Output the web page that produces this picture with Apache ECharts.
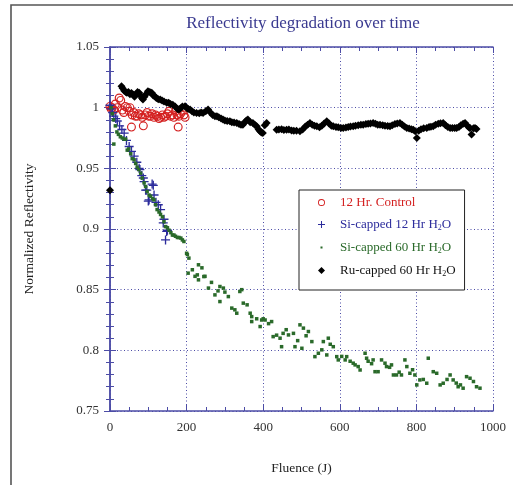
<!DOCTYPE html>
<html>
<head>
<meta charset="utf-8">
<script src="https://cdn.jsdelivr.net/npm/echarts@6/dist/echarts.min.js"></script>
<style>html,body{margin:0;padding:0;background:#fff;}#c{width:513px;height:485px;}</style>
</head>
<body>
<div id="c"></div>
<script>
var seriesNames = ['12 Hr. Control', 'Si-capped 12 Hr H2O', 'Si-capped 60 Hr H2O', 'Ru-capped 60 Hr H2O'];
var xTicks = [0, 200, 400, 600, 800, 1000];
var yTicks = [0.75, 0.8, 0.85, 0.9, 0.95, 1, 1.05];

var controlData = [[0,1.001],[3,0.999],[6,1.0],[10,0.998],[14,1.003],[19,1.0],[24,1.008],[28,1.006],[32,0.998],[36,0.996],[40,1.001],[45,1.0],[50,0.997],[52,1.0],[56,0.984],[58,0.994],[62,0.996],[66,0.993],[71,0.993],[75,0.995],[80,0.994],[84,0.992],[87,0.985],[92,0.994],[97,0.996],[101,0.993],[106,0.993],[110,0.995],[115,0.992],[119,0.994],[123,0.993],[128,0.991],[132,0.992],[137,0.994],[141,0.992],[145,0.993],[150,0.995],[154,0.997],[158,0.993],[163,0.994],[167,0.992],[171,0.997],[175,0.994],[178,0.984],[180,0.993],[184,0.995],[189,0.997],[193,0.994],[196,0.992]];

var si12Data = [[0,1.002],[3,0.999],[7,0.996],[10,0.993],[15,0.991],[19,0.989],[25,0.985],[31,0.982],[37,0.979],[43,0.973],[50,0.968],[56,0.964],[63,0.96],[70,0.955],[76,0.95],[78,0.949],[83,0.944],[87,0.942],[89,0.939],[93,0.932],[96,0.932],[100,0.923],[102,0.924],[110,0.937],[113,0.936],[115,0.928],[120,0.922],[126,0.92],[132,0.916],[139,0.905],[141,0.908],[145,0.891],[148,0.898],[150,0.899]];

var si60Data = [[3,1.0],[6,0.995],[9,0.99],[10,0.970],[14,0.985],[18,0.98],[22,0.978],[27,0.976],[32,0.975],[37,0.974],[41,0.974],[45,0.965],[49,0.966],[54,0.962],[58,0.958],[63,0.957],[67,0.954],[71,0.951],[75,0.949],[80,0.946],[84,0.942],[89,0.938],[93,0.935],[97,0.931],[102,0.928],[106,0.927],[111,0.925],[115,0.924],[119,0.92],[123,0.916],[128,0.914],[132,0.912],[137,0.91],[141,0.906],[145,0.902],[150,0.901],[154,0.899],[159,0.897],[163,0.895],[167,0.895],[171,0.894],[176,0.893],[180,0.893],[185,0.8925],[189,0.891],[193,0.8897],[200,0.880],[202,0.879],[206,0.876],[204,0.8636],[215,0.8664],[222,0.861],[228,0.8622],[231,0.8705],[231,0.8581],[240,0.868],[245,0.8608],[248,0.861],[257,0.8513],[265,0.856],[274,0.8457],[282,0.849],[287,0.8526],[287,0.8402],[296,0.8513],[300,0.848],[309,0.8443],[318,0.8348],[326,0.8334],[331,0.8306],[339,0.8485],[344,0.85],[348,0.8389],[358,0.8375],[366,0.8306],[370,0.8278],[370,0.8237],[383,0.826],[392,0.8196],[396,0.825],[400,0.826],[405,0.825],[414,0.822],[422,0.8237],[426,0.8113],[435,0.8125],[444,0.81],[448,0.803],[452,0.814],[460,0.817],[466,0.8127],[479,0.814],[483,0.803],[490,0.808],[496,0.821],[501,0.8017],[505,0.8183],[512,0.812],[518,0.8155],[527,0.8072],[535,0.7948],[544,0.7976],[553,0.8004],[557,0.8072],[566,0.7962],[570,0.81],[575,0.805],[583,0.803],[592,0.7948],[596,0.7921],[605,0.795],[614,0.7921],[618,0.7948],[627,0.791],[635,0.7894],[640,0.788],[648,0.7866],[653,0.7838],[666,0.7976],[670,0.7935],[674,0.791],[683,0.789],[687,0.7921],[692,0.7824],[700,0.7824],[709,0.7921],[718,0.7894],[722,0.7866],[730,0.786],[735,0.788],[740,0.7797],[748,0.7797],[755,0.782],[761,0.7797],[770,0.7921],[775,0.7866],[783,0.7811],[790,0.784],[796,0.7797],[801,0.7715],[809,0.7756],[818,0.776],[827,0.7729],[831,0.7935],[844,0.7824],[853,0.7811],[862,0.7715],[870,0.7729],[880,0.776],[888,0.7797],[896,0.7756],[904,0.773],[909,0.77],[915,0.7715],[922,0.7688],[931,0.7783],[940,0.777],[949,0.7743],[957,0.77],[966,0.7688]];

var ruData = [[0,0.932],[30,1.0176],[33,1.016],[37,1.014],[41,1.013],[44,1.0122],[48,1.013],[52,1.011],[56,1.012],[60,1.0108],[64,1.009],[68,1.011],[72,1.013],[76,1.0122],[80,1.01],[83,1.008],[86,1.0067],[90,1.009],[94,1.011],[99,1.0135],[104,1.013],[109,1.0122],[113,1.01],[117,1.0094],[121,1.008],[126,1.007],[131,1.0067],[136,1.006],[141,1.005],[148,1.004],[153,1.004],[158,1.003],[164,1.0025],[170,1.001],[176,0.999],[180,0.9984],[184,0.9995],[189,1.001],[196,1.0011],[200,1.0],[204,0.999],[209,0.9984],[214,0.997],[219,0.996],[226,0.9957],[233,0.9955],[238,0.996],[243,0.9957],[250,0.997],[256,0.9984],[262,0.996],[268,0.994],[274,0.993],[279,0.9929],[284,0.992],[290,0.991],[295,0.9902],[300,0.9895],[306,0.989],[313,0.9888],[318,0.988],[324,0.9878],[331,0.9874],[337,0.9866],[342,0.986],[347,0.986],[352,0.988],[356,0.9895],[360,0.9902],[366,0.988],[373,0.9874],[378,0.986],[383,0.9846],[388,0.982],[392,0.9805],[395,0.9795],[399,0.9792],[404,0.9855],[409,0.9874],[435,0.9819],[441,0.982],[448,0.9822],[454,0.9815],[461,0.9819],[467,0.982],[474,0.9812],[480,0.981],[487,0.981],[496,0.9805],[503,0.982],[510,0.9845],[516,0.986],[522,0.9874],[528,0.986],[534,0.985],[540,0.9846],[547,0.9838],[553,0.985],[559,0.987],[566,0.9888],[572,0.987],[578,0.985],[583,0.9846],[590,0.984],[596,0.9838],[603,0.9833],[609,0.9833],[616,0.9836],[622,0.984],[628,0.9845],[635,0.9846],[641,0.985],[648,0.9855],[655,0.986],[661,0.986],[668,0.9865],[674,0.9868],[680,0.987],[687,0.9874],[693,0.9868],[699,0.986],[705,0.986],[712,0.9855],[718,0.985],[725,0.9848],[731,0.9846],[737,0.9855],[744,0.9865],[750,0.987],[757,0.9874],[763,0.986],[769,0.9845],[775,0.9833],[781,0.9828],[787,0.9822],[792,0.9819],[797,0.9805],[801,0.975],[806,0.981],[812,0.9822],[819,0.983],[827,0.9833],[833,0.984],[838,0.9843],[844,0.9846],[850,0.986],[857,0.9868],[863,0.9872],[870,0.9874],[876,0.9855],[882,0.984],[888,0.9833],[894,0.9833],[900,0.9833],[905,0.9833],[911,0.984],[916,0.9855],[922,0.9868],[927,0.9874],[933,0.985],[938,0.9835],[940,0.9833],[944,0.9778],[949,0.983],[953,0.9833],[957,0.9825]];

var colors = ['#d42020', '#2c2c9c', '#2a6a2a', '#000000'];
var SERIF = 'Liberation Serif';
var AXIS_COLOR = '#4c4ca6';
var plusPath = 'path://M4,0h1.4v4h4v1.4h-4v4h-1.4v-4h-4v-1.4h4z';
var smallSquare = 'path://M0,0M3.2,3.2h2.6v2.6h-2.6zM9,9';
var ringPath = 'path://M5,0A5,5,0,1,1,4.99,0zM5,1.3A3.7,3.7,0,1,0,5.01,1.3z';

var chart = echarts.init(document.getElementById('c'), null, {renderer: 'canvas'});

function axisCommon(showLabel) {
  return {
    type: 'value',
    axisLine: {show: true, lineStyle: {color: AXIS_COLOR, width: 1.5}},
    axisTick: {show: true, inside: true, length: 6, lineStyle: {color: AXIS_COLOR, width: 1}},
    minorTick: {show: true, length: 4, lineStyle: {color: AXIS_COLOR, width: 1}},
    axisLabel: {show: showLabel, color: '#333', fontFamily: SERIF, fontSize: 13,
      formatter: function (v) { return String(Math.round(v * 1000) / 1000); }},
    splitLine: {show: false}
  };
}

var xBottom = Object.assign(axisCommon(true), {
  min: xTicks[0], max: xTicks[xTicks.length - 1], interval: xTicks[1] - xTicks[0],
  position: 'bottom', gridIndex: 0,
  name: 'Fluence (J)', nameLocation: 'middle', nameGap: 50,
  nameTextStyle: {fontFamily: SERIF, fontSize: 13.5, color: '#222'},
  splitLine: {show: true, lineStyle: {color: AXIS_COLOR, type: [1, 2.5], width: 1}}
});
xBottom.minorTick.splitNumber = 4;
xBottom.axisLabel.margin = 10;
var xTop = Object.assign(axisCommon(false), {
  min: xTicks[0], max: xTicks[xTicks.length - 1], interval: xTicks[1] - xTicks[0],
  position: 'top', gridIndex: 0
});
xTop.minorTick.splitNumber = 4;

var yLeft = Object.assign(axisCommon(true), {
  min: yTicks[0], max: yTicks[yTicks.length - 1], interval: 0.05,
  position: 'left', gridIndex: 0,
  name: 'Normalized Reflectivity', nameLocation: 'middle', nameGap: 74,
  nameTextStyle: {fontFamily: SERIF, fontSize: 13.5, color: '#222'},
  splitLine: {show: true, lineStyle: {color: AXIS_COLOR, type: [1, 2.5], width: 1}}
});
yLeft.minorTick.splitNumber = 5;
yLeft.axisLabel.margin = 11;
var yRight = Object.assign(axisCommon(false), {
  min: yTicks[0], max: yTicks[yTicks.length - 1], interval: 0.05,
  position: 'right', gridIndex: 0
});
yRight.minorTick.splitNumber = 5;

function legendLabel(name) {
  if (/H2O$/.test(name)) {
    return '{t|' + name.slice(0, -2) + '}{s|2}{u|O}';
  }
  return '{t|' + name + '}';
}

var option = {
  backgroundColor: '#ffffff',
  animation: false,
  title: {
    text: 'Reflectivity degradation over time',
    left: 298, top: 10, textAlign: 'center',
    textStyle: {fontFamily: SERIF, fontSize: 17, fontWeight: 'normal', color: '#3a3a90'}
  },
  graphic: [{
    type: 'rect', z: 100,
    shape: {x: 11, y: 5, width: 700, height: 700},
    style: {fill: 'none', stroke: '#555', lineWidth: 1.6}
  }],
  grid: {left: 110, right: 20, top: 47, bottom: 74, containLabel: false},
  xAxis: [xBottom, xTop],
  yAxis: [yLeft, yRight],
  legend: {
    orient: 'vertical',
    left: 299, top: 190,
    padding: [6, 9, 12, 19],
    itemGap: 8,
    itemWidth: 7, itemHeight: 7,
    borderColor: '#222', borderWidth: 1,
    backgroundColor: '#fff',
    selectedMode: false,
    formatter: legendLabel,
    textStyle: {
      fontFamily: SERIF, fontSize: 13,
      rich: {
        t: {fontFamily: SERIF, fontSize: 13, lineHeight: 15, padding: [0, 0, 0, 10]},
        s: {fontFamily: SERIF, fontSize: 8, lineHeight: 10, padding: [7, 0, 0, 0]},
        u: {fontFamily: SERIF, fontSize: 13, lineHeight: 15}
      }
    },
    data: [
      {name: seriesNames[0], icon: ringPath, textStyle: {color: colors[0]}, itemStyle: {color: colors[0]}},
      {name: seriesNames[1], icon: plusPath, textStyle: {color: colors[1]}},
      {name: seriesNames[2], icon: smallSquare, textStyle: {color: colors[2]}},
      {name: seriesNames[3], icon: 'diamond', textStyle: {color: '#111'}}
    ]
  },
  series: [
    {
      name: seriesNames[0], type: 'scatter', data: controlData,
      symbol: ringPath, symbolSize: 9,
      itemStyle: {color: colors[0], opacity: 1}
    },
    {
      name: seriesNames[1], type: 'scatter', data: si12Data,
      symbol: plusPath, symbolSize: 9,
      itemStyle: {color: colors[1], opacity: 1}
    },
    {
      name: seriesNames[2], type: 'scatter', data: si60Data,
      symbol: 'rect', symbolSize: 3.5,
      itemStyle: {color: colors[2], opacity: 1}
    },
    {
      name: seriesNames[3], type: 'scatter', data: ruData,
      symbol: 'diamond', symbolSize: [8, 8],
      itemStyle: {color: colors[3], opacity: 1}
    }
  ]
};
chart.setOption(option);
</script>
</body>
</html>
